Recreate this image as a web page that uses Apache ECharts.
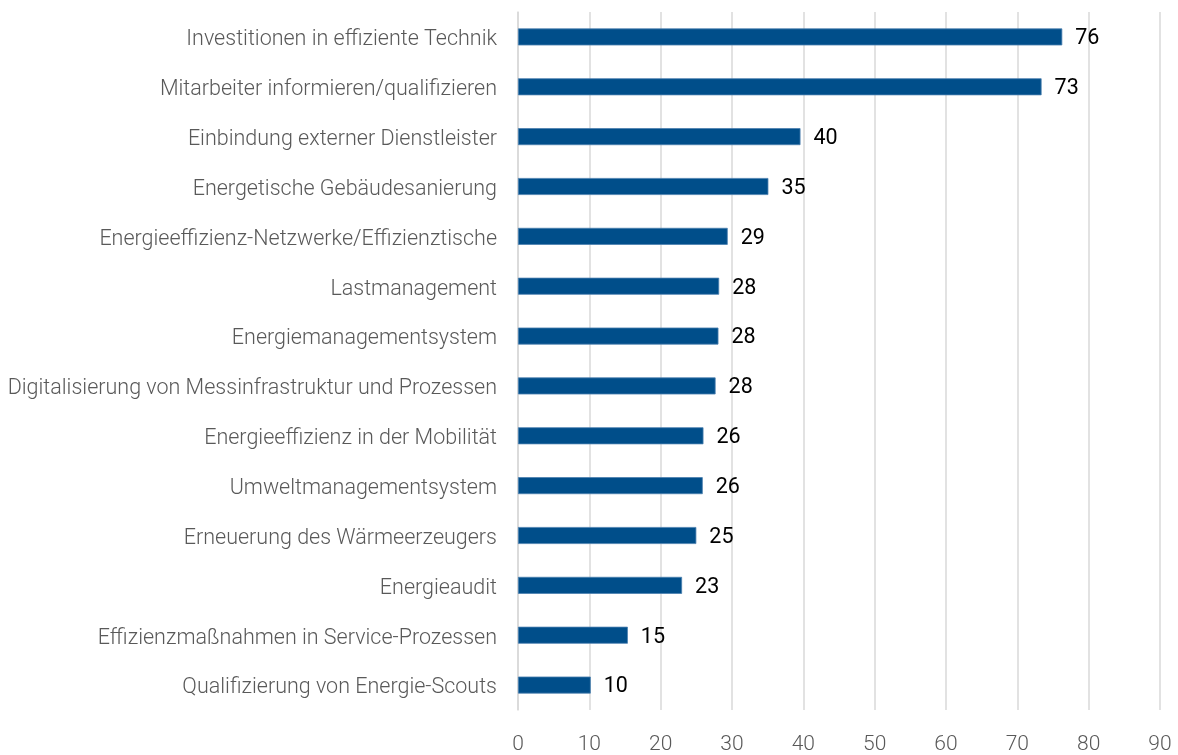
<!DOCTYPE html>
<html>
<head>
<meta charset="utf-8">
<script src="https://cdn.jsdelivr.net/npm/echarts@6/dist/echarts.min.js"></script>
<style>
html,body{margin:0;padding:0;background:#fff;}
#chart{width:1178px;height:755px;}
</style>
</head>
<body>
<div id="chart"></div>
<script>
const categories = [
  "Investitionen in effiziente Technik",
  "Mitarbeiter informieren/qualifizieren",
  "Einbindung externer Dienstleister",
  "Energetische Gebäudesanierung",
  "Energieeffizienz-Netzwerke/Effizienztische",
  "Lastmanagement",
  "Energiemanagementsystem",
  "Digitalisierung von Messinfrastruktur und Prozessen",
  "Energieeffizienz in der Mobilität",
  "Umweltmanagementsystem",
  "Erneuerung des Wärmeerzeugers",
  "Energieaudit",
  "Effizienzmaßnahmen in Service-Prozessen",
  "Qualifizierung von Energie-Scouts"
];
const values = [76.3, 73.4, 39.6, 35.1, 29.4, 28.2, 28.1, 27.7, 26.0, 25.9, 25.0, 23.0, 15.4, 10.2];
const xTicks = [0, 10, 20, 30, 40, 50, 60, 70, 80, 90];

const chart = echarts.init(document.getElementById('chart'), null, {renderer: 'canvas'});
const FONT = 'Roboto, "Liberation Sans", sans-serif';
chart.setOption({
  animation: false,
  backgroundColor: '#ffffff',
  grid: {left: 518, right: 18, top: 12, bottom: 40, containLabel: false},
  xAxis: {
    type: 'value',
    min: xTicks[0],
    max: xTicks[xTicks.length - 1],
    interval: xTicks[1] - xTicks[0],
    axisLine: {show: false},
    axisTick: {show: false},
    splitLine: {show: true, lineStyle: {color: '#d9d9d9', width: 1.5}},
    axisLabel: {color: '#595959', fontSize: 21, fontFamily: FONT, fontWeight: 300, margin: 24}
  },
  yAxis: {
    type: 'category',
    inverse: true,
    data: categories,
    axisLine: {show: true, lineStyle: {color: '#d9d9d9', width: 1.5}},
    axisTick: {show: false},
    axisLabel: {
      margin: 21,
      formatter: v => '{a|' + v + '}',
      rich: {
        a: {color: '#595959', fontSize: 21.5, fontFamily: FONT, fontWeight: 300, padding: [6, 0, 0, 0]}
      }
    }
  },
  series: [{
    type: 'bar',
    data: values,
    barWidth: 17,
    itemStyle: {color: '#004e8a', borderColor: '#4a7fae', borderWidth: 0.8},
    label: {
      show: true,
      position: 'right',
      distance: 13,
      offset: [0, 2],
      color: '#000000',
      fontSize: 21.5,
      fontWeight: 'normal',
      fontFamily: FONT,
      formatter: p => Math.round(p.value).toString()
    }
  }]
});
</script>
</body>
</html>
